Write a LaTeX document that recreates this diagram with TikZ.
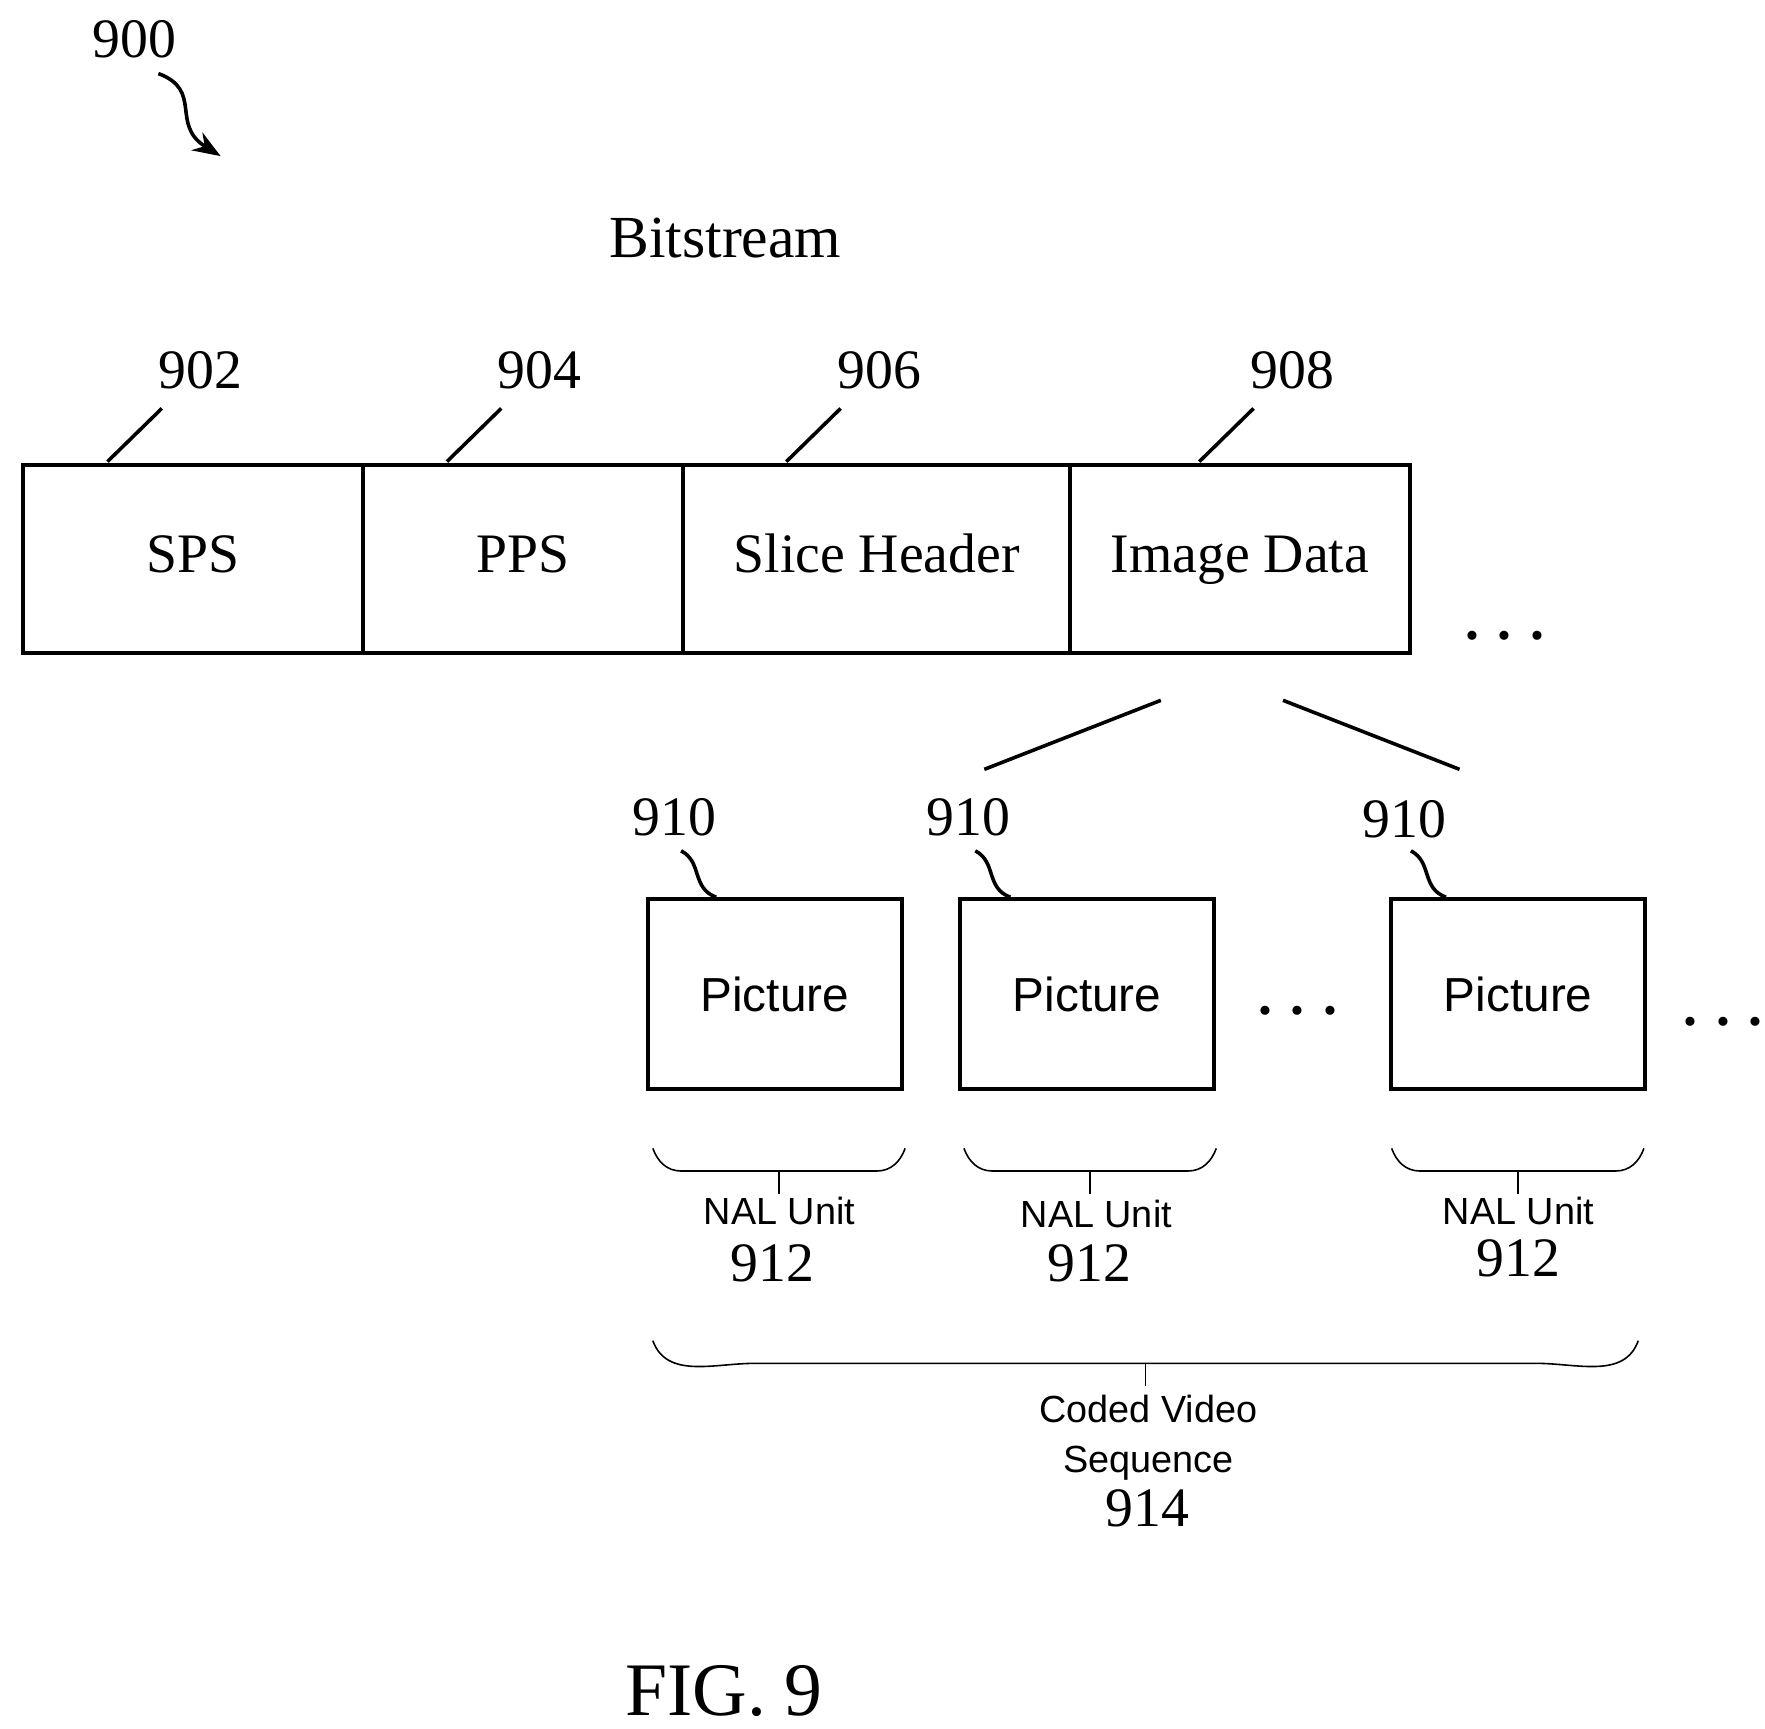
\documentclass[tikz,border=0pt]{standalone}
\usepackage{fontspec}
\setmainfont{Liberation Serif}
\setsansfont{Liberation Sans}
\usetikzlibrary{positioning,arrows.meta}
\tikzset{
  field/.style={draw, line width=1pt, minimum height=1.66cm, font=\fontsize{14}{17}\selectfont, inner sep=0pt, text height=2ex, text depth=0.5ex, anchor=north west},
  pic/.style={draw, line width=1pt, minimum width=2.24cm, minimum height=1.68cm, font=\sffamily\fontsize{12}{14}\selectfont, anchor=north west},
  num/.style={font=\fontsize{14}{17}\selectfont},
  small/.style={font=\sffamily\fontsize{9.5}{12}\selectfont, align=center},
  lead/.style={line width=0.9pt},
  brc/.style={line width=0.4pt}
}
\newcommand{\brc}[4]{% x1, x2, ytop, r
  \draw[brc] (#1,#3) to[out=-70,in=180] (#1+#4,#3+20) -- (#2-#4,#3+20) to[out=0,in=-110] (#2,#3);
  \draw[brc] ({(#1+#2)/2},#3+20) -- ++(0,20);}
\newcommand{\bigdots}{\textbf{.\,\,.\,\,.}}
\begin{document}
\begin{tikzpicture}[x=0.01cm,y=-0.01cm]
  \useasboundingbox (0,0) rectangle (1560,1528);

  % Reference numeral
  \node[num] (n900) at (119,35) {900};
  \draw[-{Stealth[length=7pt]}, line width=0.9pt] (140,65) .. controls (180,80) and (150,110) .. (195,138);

  \node[font=\fontsize{15}{18}\selectfont] (title) at (641,210) {Bitstream};

  % Bitstream fields
  \node[field, minimum width=3.00cm] (sps) at (19,409) {SPS};
  \node[field, minimum width=2.83cm] (pps) at (319,409) {PPS};
  \node[field, minimum width=3.42cm] (sh) at (602,409) {Slice Header};
  \node[field, minimum width=3.00cm] (img) at (944,409) {Image Data};
  \node[num] (dots1) at (1330,562) {\bigdots};

  % Field labels
  \foreach \name/\x/\lab in {sps/95/902, pps/395/904, sh/695/906, img/1060/908}{
    \draw[lead] (\x,408) -- ++(48,-47);
    \node[num] at (\x+82,327) {\lab};
  }

  % Expansion lines
  \coordinate (e1) at (870,680);
  \coordinate (e2) at (1026,619);
  \coordinate (e3) at (1134,619);
  \coordinate (e4) at (1290,680);
  \draw[lead] (e1) -- (e2);
  \draw[lead] (e3) -- (e4);

  % Pictures
  \node[pic] (p1) at (571,793) {Picture};
  \node[pic] (p2) at (847,793) {Picture};
  \node[pic] (p3) at (1228,793) {Picture};
  \node[num] (dots2) at (1147,893) {\bigdots};
  \node[num] (dots3) at (1523,903) {\bigdots};

  \foreach \x/\y in {596/722, 856/722, 1241/724}{
    \node[num] at (\x,\y) {910};
    \draw[lead] (\x+6,752) .. controls (\x+25,762) and (\x+15,785) .. (\x+37,793);
  }

  % NAL units
  \brc{577}{800}{1015}{25}
  \brc{852}{1075}{1015}{25}
  \brc{1230}{1453}{1015}{25}
  \node[small] at (689,1070) {NAL Unit};
  \node[num] at (683,1117) {912};
  \node[small] at (969,1073) {NAL Unit};
  \node[num] at (963,1117) {912};
  \node[small] at (1342,1070) {NAL Unit};
  \node[num] at (1342,1112) {912};

  % Coded video sequence
  \brc{577}{1448}{1185}{90}
  \node[small, font=\sffamily\fontsize{9.5}{12.5}\selectfont] at (1015,1271) {Coded Video\\Sequence};
  \node[num] at (1014,1333) {914};

  \node[font=\fontsize{19}{22}\selectfont] (fig) at (640,1495) {FIG. 9};
\end{tikzpicture}
\end{document}
